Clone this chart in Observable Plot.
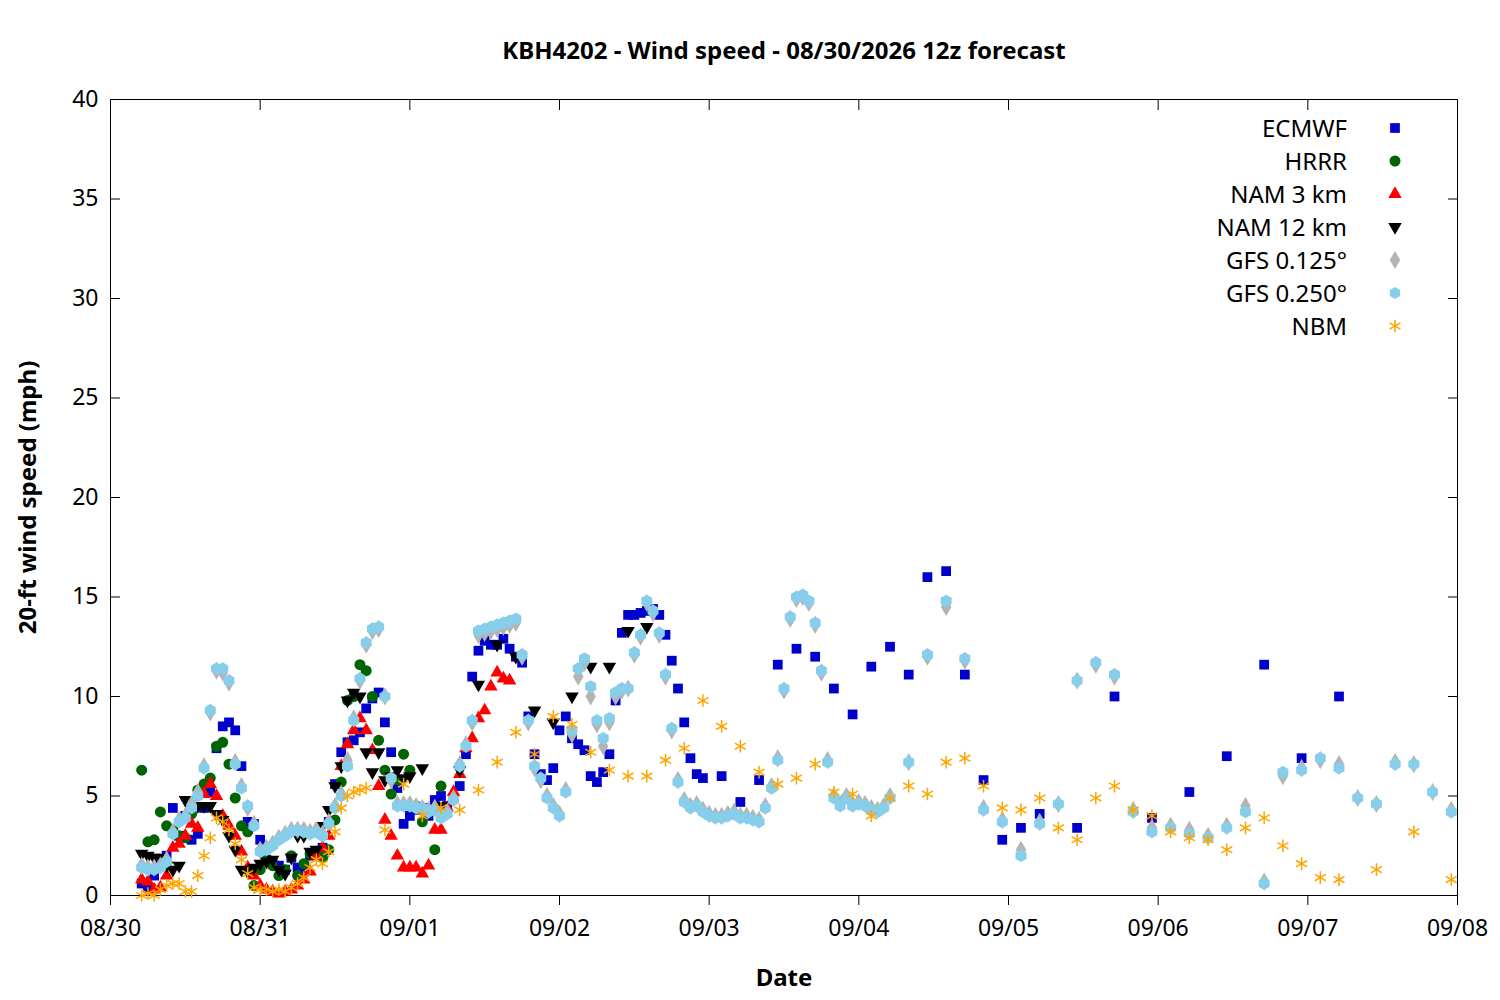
<!DOCTYPE html>
<html><head><meta charset="utf-8">
<script src="https://cdn.jsdelivr.net/npm/d3@7"></script>
<script src="https://cdn.jsdelivr.net/npm/@observablehq/plot@0.6"></script>
<style>
body{margin:0;background:#fff;font-family:"Noto Sans",sans-serif}
#wrap{position:relative;width:1500px;height:1000px}
#legend{position:absolute;right:97px;top:111px;font-size:24px;line-height:33px;text-align:right}
#legend div{display:flex;justify-content:flex-end;align-items:center}
#legend svg{margin-left:40px}
g[aria-label="x-axis tick label"] text, g[aria-label="y-axis tick label"] text{font-size:23px !important}
</style></head><body>
<div id="wrap"><div id="chart"></div><div id="legend"></div></div>
<script>
// hours since 08/30 00z; segments = [start, step, values]
const ecmwf = [
  [5, 1, [0.6,0.4,1.0,1.5,2.0,4.4,3.0,4.0,2.8,3.1,4.4,5.2,7.4,8.5,8.7,8.3,6.5,3.7,3.6,2.8,
          1.8,1.6,1.5,1.3,1.9,1.4,1.2,2.0,2.2,2.4,3.7,5.6,7.2,7.7,7.8,8.2,9.4,9.9,10.2,8.7,7.2,5.4,3.6,
          4.0,4.3,4.4,4.0,4.8,5.0,4.5,4.9,5.5,7.1,11.0,12.3,12.8,12.6,12.6,12.9,12.4,12.0,11.7,9.0,7.1,6.1,5.8,6.4,
          8.3,9.0,7.9,7.6,7.3,6.0,5.7,6.2,7.1,9.8,13.2,14.1,14.1,14.2,14.3,14.4,14.1,13.1,11.8,10.4,8.7,6.9,6.1,5.9]],
  [98, 3, [6.0,4.7,5.8,11.6,12.4,12.0,10.4,9.1,11.5,12.5,11.1,16.0,16.3,11.1,5.8,2.8,3.4,4.1]],
  [155, 6, [3.4,10.0,3.9,5.2,7.0,11.6,6.9,10.0]]
];
const hrrr = [
  [5, 1, [6.3,2.7,2.8,4.2,3.5,3.3,3.0,2.9,4.1,5.3,5.6,5.9,7.5,7.7,6.6,4.9,3.5,3.2,0.5,1.3,
          1.8,1.5,1.0,1.3,2.0,1.0,1.6,2.1,2.1,1.9,2.3,3.8,5.7,9.8,10.0,11.6,11.3,10.0,7.8,6.3,
          5.1,5.8,7.1,6.3,4.5,3.7,4.2,2.3,5.5]]
];
const nam3 = [
  [5, 1, [0.8,0.7,0.3,0.4,1.0,2.4,2.6,3.0,3.6,3.4,5.1,5.6,5.0,4.0,3.5,3.0,2.2,1.4,1.0,0.5,
          0.3,0.2,0.1,0.2,0.3,0.5,0.8,1.2,2.0,2.4,3.0,4.5,6.5,7.6,8.3,8.9,8.3,7.3,5.5,3.8,
          3.0,2.0,1.4,1.4,1.4,1.1,1.5,3.3,3.3,4.4,5.2,6.1,7.4,7.9,8.9,9.3,10.5,11.2,10.9,10.8]]
];
const nam12 = [
  [5, 1, [2.1,2.0,1.9,1.9,1.5,1.3,1.5,4.8,4.8,4.5,4.5,4.5,4.1,3.8,3.0,2.3,1.3,1.2,1.4,1.6,
          1.7,1.8,1.3,1.1,1.9,3.0,3.0,2.2,2.3,3.5,4.3,5.5,6.5,9.8,10.2,10.0,7.2,6.2,7.2,5.8,
          6.0,6.3,5.9,6.0]],
  [50, 3, [6.4,4.5,6.3,10.6,12.6,12.0,9.3,8.7,10.0,11.5,11.5,13.3,13.5]]
];
const gfs125 = [
  [5, 1, [1.5,1.4,1.4,1.5,1.8,3.2,3.8,4.0,4.6,5.2,6.5,9.2,11.3,11.2,10.7,6.7,5.5,4.4,3.6,2.3,
          2.4,2.6,2.9,3.1,3.3,3.3,3.3,3.2,3.3,3.1,3.7,4.5,5.1,6.8,8.9,10.8,12.6,13.3,13.4,10.0,
          5.8,4.6,4.6,4.6,4.5,4.4,4.3,4.4,4.0,4.2,4.9,
          6.6,7.6,8.7,13.1,13.2,13.3,13.4,13.5,13.6,13.7,12.0,8.7,6.4,5.8,5.0,4.5,4.1,5.3,8.1,11.0,
          11.7,10.0,8.6,7.5,8.7,10.0,10.3,10.4,12.1,13.0,14.7,14.2,13.1,11.0,8.3,5.8,4.8,4.5,4.6,4.3,
          4.1,4.0,4.0,4.1,4.2,4.0,4.0,3.9,3.8,4.5,5.5,6.9,10.3,13.9,14.9,15.0,14.7,13.6,11.2,6.8,
          5.0,4.6,5.0,4.6,4.7,4.6,4.4,4.3,4.5,5.0]],
  [128, 3, [6.7,12.0,14.5,11.8,4.4,3.8,2.3,3.7,4.6,10.8,11.6,11.0,4.3,3.4,3.5,3.3,3.0,3.5,4.5,0.7,
            6.0,6.4,6.8,6.6,4.9,4.6,6.7,6.6,5.2,4.3]]
];
const gfs250 = [
  [5, 1, [1.4,1.3,1.3,1.4,1.7,3.1,3.7,3.9,4.4,5.0,6.4,9.3,11.4,11.4,10.8,6.6,5.4,4.5,3.5,2.2,
          2.3,2.5,2.8,3.0,3.2,3.3,3.2,3.1,3.2,3.0,3.6,4.4,5.0,6.5,8.8,10.9,12.7,13.4,13.5,10.0,
          5.9,4.5,4.5,4.5,4.4,4.4,4.2,4.3,3.9,4.1,4.8,
          6.5,7.5,8.8,13.3,13.4,13.5,13.6,13.7,13.8,13.9,12.1,8.8,6.5,5.9,4.9,4.4,4.0,5.2,8.3,11.4,
          11.9,10.5,8.8,7.9,8.9,10.2,10.4,10.4,12.2,13.1,14.8,14.3,13.2,11.1,8.4,5.7,4.7,4.4,4.5,4.2,
          4.0,3.9,3.9,4.0,4.1,3.9,3.9,3.8,3.7,4.4,5.4,6.8,10.4,14.0,15.0,15.1,14.8,13.7,11.3,6.7,
          4.9,4.5,4.9,4.5,4.6,4.5,4.3,4.2,4.4,4.9]],
  [128, 3, [6.7,12.1,14.8,11.9,4.3,3.7,2.0,3.6,4.6,10.8,11.7,11.1,4.2,3.2,3.4,3.1,2.9,3.4,4.2,0.6,
            6.2,6.3,6.9,6.4,4.9,4.6,6.6,6.6,5.2,4.2]]
];
const nbm = [
  [5, 1, [0.0,0.1,0.0,0.3,0.5,0.6,0.6,0.2,0.2,1.0,2.0,2.9,3.9,3.7,3.3,2.6,1.8,1.1,0.4,0.3,
          0.3,0.2,0.3,0.2,0.4,0.6,0.9,1.4,1.8,1.6,2.2,3.2,4.4,5.0,5.2,5.3,5.4]],
  [44, 3, [3.3,5.6,4.0,4.4,4.3,5.3,6.7,8.2,7.1,9.0,8.6,7.2,6.3,6.0,6.0,6.8,7.4,9.8,8.5,7.5,
           6.2,5.6,5.9,6.6,5.2,5.1,4.0,4.9,5.5,5.1,6.7,6.9,5.5,4.4,4.3,4.9,3.4,2.8,4.9,5.5,
           4.3,4.0,3.2,2.9,2.8,2.3,3.4,3.9,2.5,1.6,0.9,0.8]],
  [203, 6, [1.3,3.2,0.8]]
];

const start = new Date(Date.UTC(2026, 7, 30));
function rows(segs) {
  return segs.flatMap(([h0, step, vals]) =>
    vals.map((v, i) => ({t: d3.utcHour.offset(start, h0 + step * i), v})));
}
const series = [
  {name: "ECMWF", data: ecmwf, symbol: "square", fill: "#0000cc", r: 5.5},
  {name: "HRRR", data: hrrr, symbol: "circle", fill: "#006400", r: 5.5},
  {name: "NAM 3 km", data: nam3, symbol: "triangle", fill: "#ff0000", r: 5},
  {name: "NAM 12 km", data: nam12, symbol: "triangle", fill: "#000000", r: 5, rotate: 180},
  {name: "GFS 0.125°", data: gfs125, symbol: "diamond", fill: "#b4b4b4", r: 5.5},
  {name: "GFS 0.250°", data: gfs250, symbol: "hexagon", fill: "#87ceeb", r: 5.5},
  {name: "NBM", data: nbm, symbol: "asterisk", stroke: "#ffa500", r: 6}
];

const font = "Noto Sans";
const chart = Plot.plot({
  width: 1500, height: 1000,
  marginLeft: 110, marginRight: 43, marginTop: 99, marginBottom: 105,
  style: {fontFamily: font, fontSize: "20px", color: "#000", background: "#fff"},
  x: {type: "utc", domain: [start, d3.utcDay.offset(start, 9)]},
  y: {domain: [0, 40]},
  marks: [
    Plot.axisX({ticks: d3.utcDay.every(1), tickFormat: d3.utcFormat("%m/%d"), tickSize: -10, tickPadding: 24, dy: 10, label: null}),
    Plot.axisX({anchor: "top", ticks: d3.utcDay.every(1), tickFormat: () => "", tickSize: -10, label: null}),
    Plot.axisY({ticks: d3.range(0, 41, 5), tickSize: -10, tickPadding: 22, label: null}),
    Plot.axisY({anchor: "right", ticks: d3.range(0, 41, 5), tickFormat: () => "", tickSize: -10, label: null}),
    Plot.frame({stroke: "#000"}),
    ...series.map(s => Plot.dot(rows(s.data), {
      x: "t", y: "v", symbol: () => s.symbol, r: s.r, rotate: s.rotate ?? 0,
      fill: s.fill ?? "none", stroke: s.stroke ?? "none", strokeWidth: 1.5
    })),
    Plot.text(["KBH4202 - Wind speed - 08/30/2026 12z forecast"], {frameAnchor: "top", dy: -58, fontSize: 24, fontWeight: "bold"}),
    Plot.text(["Date"], {frameAnchor: "bottom", dy: 90, fontSize: 24, fontWeight: "bold"}),
    Plot.text(["20-ft wind speed (mph)"], {frameAnchor: "left", textAnchor: "middle", dx: -82, rotate: -90, fontSize: 24, fontWeight: "bold"})
  ]
});
d3.select("#chart").append(() => chart);

// legend
const lg = d3.select("#legend");
const symPaths = {square: d3.symbolSquare, circle: d3.symbolCircle, triangle: d3.symbolTriangle,
  diamond: d3.symbolDiamond, asterisk: d3.symbolAsterisk};
series.forEach(s => {
  const row = lg.append("div");
  row.append("span").text(s.name);
  const sv = row.append("svg").attr("width", 16).attr("height", 16)
    .attr("viewBox", "-8 -8 16 16").style("overflow", "visible");
  let path;
  if (s.symbol === "hexagon") {
    const r = 6;
    path = "M" + d3.range(6).map(i => [r * Math.sin(i * Math.PI / 3), -r * Math.cos(i * Math.PI / 3)]).join("L") + "Z";
  } else {
    path = d3.symbol(symPaths[s.symbol], Math.PI * s.r * s.r)();
  }
  sv.append("path").attr("d", path)
    .attr("transform", s.rotate ? "rotate(180)" : null)
    .attr("fill", s.fill ?? "none").attr("stroke", s.stroke ?? "none").attr("stroke-width", 1.5);
});
</script>
</body></html>
